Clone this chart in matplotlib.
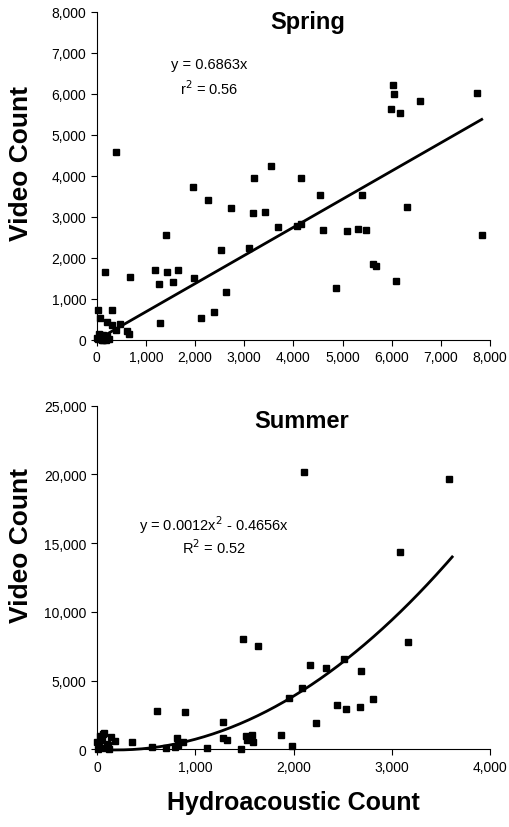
import numpy as np
import matplotlib.pyplot as plt
from matplotlib.ticker import FuncFormatter

plt.rcParams['font.family'] = ['Liberation Sans', 'DejaVu Sans']

# Spring data (hydroacoustic count, video count)
spring_x = [393, 3206, 3546, 4156, 6034, 6054, 5993, 6170, 6577, 7743,
            1966, 2271, 2739, 3173, 3424, 4543, 5390, 6319, 1403, 3681,
            4074, 4156, 4603, 5091, 5309, 5484, 7831, 2535, 3092, 163,
            1186, 1424, 1660, 677, 1267, 1546, 1973, 5614, 5681, 4874,
            6088, 2637, 2122, 2386, 1281, 33, 311, 67, 203, 318,
            468, 399, 623, 651, 20, 60, 90, 120, 150, 180,
            40, 100, 140, 200, 240, 10, 70, 130]
spring_y = [4576, 3940, 4245, 3955, 6223, 5998, 5617, 5537, 5818, 6021,
            3737, 3406, 3228, 3099, 3116, 3543, 3527, 3237, 2550, 2753,
            2785, 2833, 2688, 2656, 2705, 2680, 2559, 2203, 2252, 1663,
            1695, 1663, 1695, 1541, 1364, 1420, 1517, 1848, 1800, 1275,
            1428, 1162, 533, 678, 420, 719, 719, 533, 436, 371,
            395, 235, 226, 145, 30, 80, 20, 110, 60, 10,
            150, 0, 40, 90, 20, 60, 130, 0]
spring_slope = 0.6863

# Summer data
summer_x = [2104, 3586, 3084, 3162, 1486, 1639, 2165, 2327, 2514, 2684,
            2090, 1951, 2809, 2443, 2538, 2677, 607, 893, 2232, 1286,
            1873, 1520, 1578, 1530, 1591, 1286, 1320, 1981, 1469, 1117,
            811, 879, 794, 557, 353, 183, 71, 31, 99, 0,
            20, 50, 80, 110, 140, 60, 10, 120, 700, 820]
summer_y = [20160, 19650, 14360, 7830, 8006, 7518, 6135, 5939, 6594, 5699,
            4440, 3756, 3683, 3246, 2933, 3057, 2766, 2715, 1936, 2009,
            1063, 990, 1041, 677, 553, 800, 699, 218, 0, 73,
            800, 531, 146, 189, 553, 626, 1186, 946, 386, 509,
            200, 700, 100, 300, 900, 1100, 50, 0, 100, 300]
summer_a = 0.0012
summer_b = -0.4656


def comma(v, pos):
    return '{:,.0f}'.format(v)


fig = plt.figure(figsize=(5.09, 8.28), dpi=100)
ax1 = fig.add_axes([0.1900, 0.5882, 0.7727, 0.3965])
ax2 = fig.add_axes([0.1906, 0.0938, 0.7721, 0.4150])

for ax in (ax1, ax2):
    ax.spines['top'].set_visible(False)
    ax.spines['right'].set_visible(False)
    ax.tick_params(direction='out', length=4, width=0.8, labelsize=10)
    ax.xaxis.set_major_formatter(FuncFormatter(comma))
    ax.yaxis.set_major_formatter(FuncFormatter(comma))
    ax.set_ylabel('Video Count', fontsize=19, fontweight='bold')

ax1.yaxis.set_label_coords(-0.162, 0.542)
ax2.yaxis.set_label_coords(-0.162, 0.597)

# Spring
ax1.plot(spring_x, spring_y, 's', color='black', markersize=4)
xs = np.linspace(0, max(spring_x), 50)
ax1.plot(xs, spring_slope * xs, color='black', linewidth=2)
ax1.set_xlim(0, 8000)
ax1.set_ylim(0, 8000)
ax1.set_xticks(np.arange(0, 8001, 1000))
ax1.set_yticks(np.arange(0, 8001, 1000))
ax1.text(0.536, 0.97, 'Spring', transform=ax1.transAxes, ha='center', va='center',
         fontsize=17, fontweight='bold')
ax1.text(0.285, 0.841, 'y = 0.6863x', transform=ax1.transAxes, ha='center', va='center', fontsize=10.5)
ax1.text(0.285, 0.768, 'r$^2$ = 0.56', transform=ax1.transAxes, ha='center', va='center', fontsize=10.5)

# Summer
ax2.plot(summer_x, summer_y, 's', color='black', markersize=4)
xq = np.linspace(0, 3615, 200)
ax2.plot(xq, summer_a * xq ** 2 + summer_b * xq, color='black', linewidth=2)
ax2.set_xlim(0, 4000)
ax2.set_ylim(0, 25000)
ax2.set_xticks(np.arange(0, 4001, 1000))
ax2.set_yticks(np.arange(0, 25001, 5000))
ax2.text(0.521, 0.956, 'Summer', transform=ax2.transAxes, ha='center', va='center',
         fontsize=17, fontweight='bold')
ax2.text(0.298, 0.654, 'y = 0.0012x$^2$ - 0.4656x', transform=ax2.transAxes, ha='center', va='center', fontsize=10.5)
ax2.text(0.298, 0.589, 'R$^2$ = 0.52', transform=ax2.transAxes, ha='center', va='center', fontsize=10.5)
ax2.set_xlabel('Hydroacoustic Count', fontsize=18, fontweight='bold', labelpad=12)

for ax in (ax1, ax2):
    for t in ax.get_lines():
        t.set_clip_on(False)

fig.savefig('out.png', dpi=100)
